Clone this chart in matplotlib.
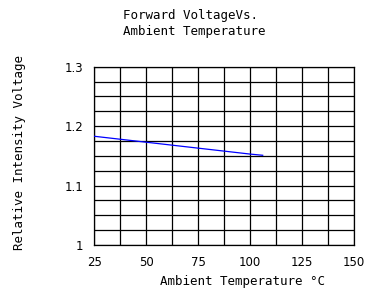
import numpy as np
import matplotlib
matplotlib.use("Agg")
import matplotlib.pyplot as plt

# data
temp = [25, 50, 75, 100, 106]
rel_voltage = [1.183, 1.173, 1.163, 1.153, 1.151]

x_ticks = [25, 50, 75, 100, 125, 150]
y_ticks = [1.0, 1.1, 1.2, 1.3]
y_tick_labels = ["1", "1.1", "1.2", "1.3"]

label_font = dict(family="DejaVu Sans Mono", fontsize=9)

fig = plt.figure(figsize=(3.67, 2.93), dpi=100)
ax = fig.add_axes([0.257, 0.164, 0.708, 0.608])

ax.set_xlim(25, 150)
ax.set_ylim(1.0, 1.3)

# grid: 10 columns, 12 rows
for gx in np.linspace(25, 150, 11):
    ax.axvline(gx, color="black", lw=0.9, zorder=1)
for gy in np.linspace(1.0, 1.3, 13):
    ax.axhline(gy, color="black", lw=0.9, zorder=1)

ax.plot(temp, rel_voltage, color="blue", lw=0.9, zorder=3)

for s in ax.spines.values():
    s.set_linewidth(0.9)

ax.set_xticks(x_ticks)
ax.set_yticks(y_ticks)
ax.set_yticklabels(y_tick_labels)
ax.tick_params(length=0, labelsize=8.5, pad=8)

fig.text(123 / 367, 1 - 15 / 293, "Forward VoltageVs.", ha="left",
         va="center", **label_font)
fig.text(123 / 367, 1 - 31 / 293, "Ambient Temperature", ha="left",
         va="center", **label_font)
fig.text(242 / 367, 1 - 282 / 293, "Ambient Temperature °C", ha="center",
         va="center", **label_font)
fig.text(20 / 367, 1 - 153 / 293, "Relative Intensity Voltage", ha="center",
         va="center", rotation=90, **label_font)

fig.savefig("out.png", dpi=100)
